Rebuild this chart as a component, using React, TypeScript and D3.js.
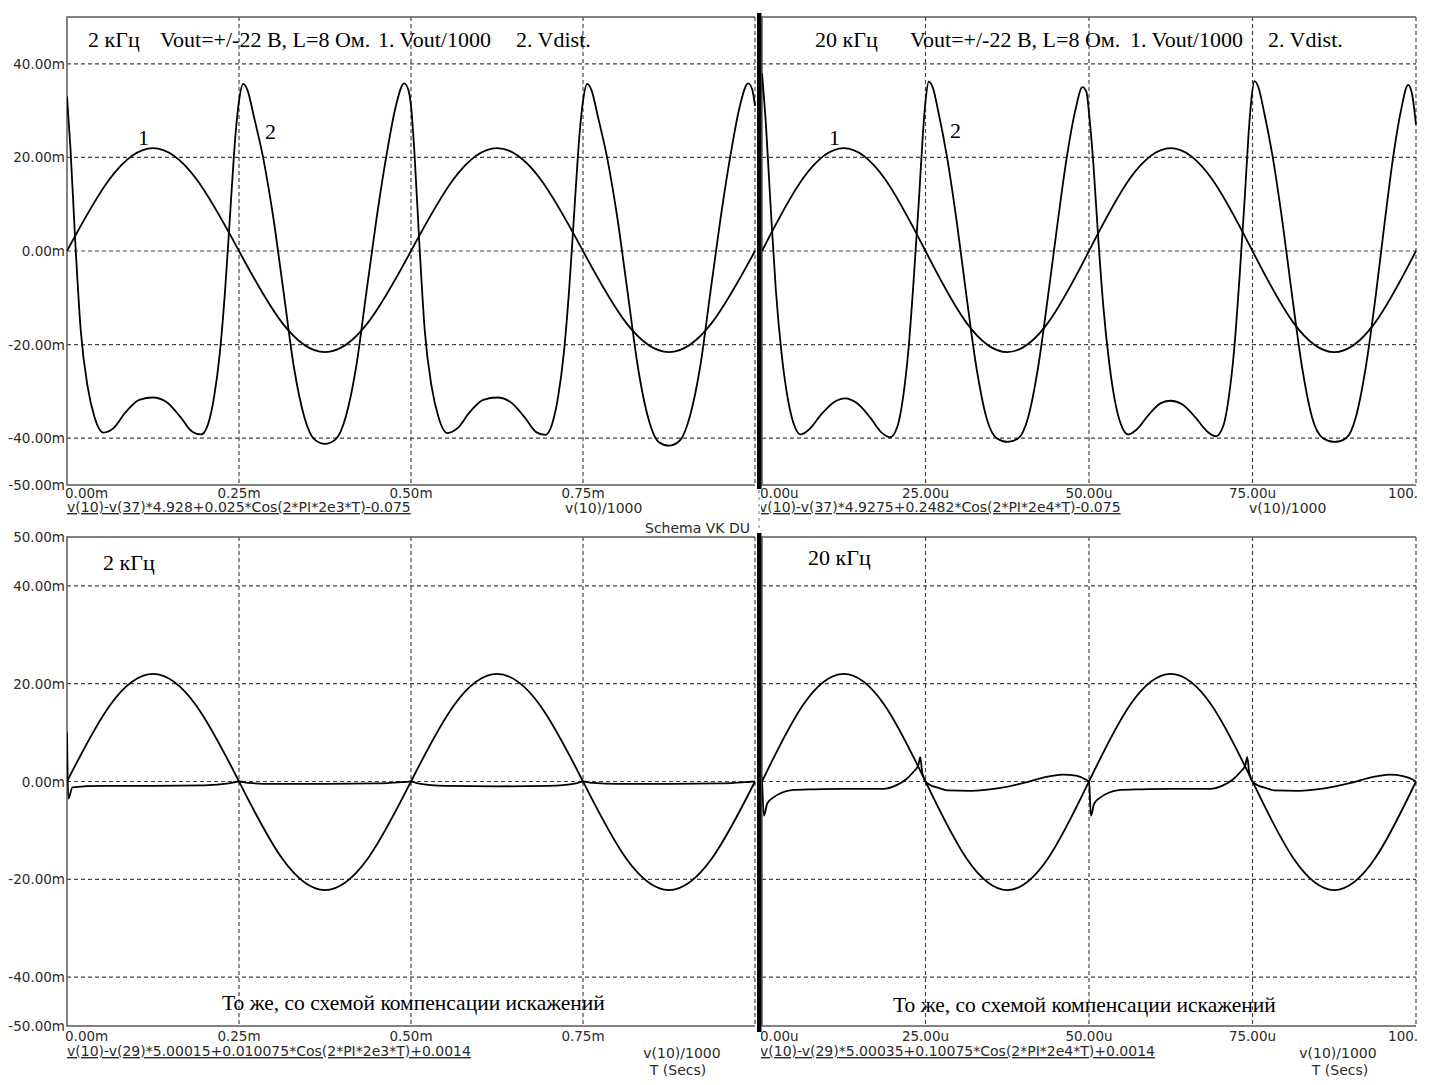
import React from 'react';
import * as d3 from 'd3';

// ── Data (t: ms on the left panels, µs on the right panels; values in mV) ──
const yTicks = [40, 20, 0, -20, -40, -50];
const yTickLabels = ['40.00m', '20.00m', '0.00m', '-20.00m', '-40.00m', '-50.00m'];
const yGrid = [40, 20, 0, -20, -40];

const msTicks = [0, 0.25, 0.5, 0.75];
const msTickLabels = ['0.00m', '0.25m', '0.50m', '0.75m'];
const msGrid = [0.25, 0.5, 0.75, 1.0];

const usTicks = [0, 25, 50, 75, 100];
const usTickLabels = ['0.00u', '25.00u', '50.00u', '75.00u', '100.00u'];
const usGrid = [25, 50, 75, 100];

// 1. Vout/1000, 2 kHz
const vout2k: [number, number][] = [
  [0, 0], [0.0625, 15.5], [0.125, 22], [0.1875, 15.5], [0.25, 0], [0.3125, -15.3],
  [0.375, -21.6], [0.4375, -15.3], [0.5, 0], [0.5625, 15.5], [0.625, 22], [0.6875, 15.5],
  [0.75, 0], [0.8125, -15.3], [0.875, -21.6], [0.9375, -15.3], [1.0, 0],
];

// 2. Vdist, 2 kHz
const vdist2k: [number, number][] = [
  [0, 33], [0.005, 22], [0.012, 2], [0.02, -17], [0.03, -29], [0.04, -35.5], [0.053, -38.8],
  [0.068, -37.8], [0.085, -34.5], [0.105, -31.8], [0.125, -31.3], [0.145, -32.3], [0.165, -35.5],
  [0.182, -38.6], [0.195, -39.2], [0.205, -37], [0.214, -31], [0.222, -22], [0.23, -8],
  [0.238, 10], [0.245, 25], [0.25, 32], [0.256, 35.7], [0.262, 34.5], [0.272, 28.5],
  [0.285, 20], [0.3, 7], [0.315, -9], [0.33, -25], [0.345, -35.5], [0.36, -40.3],
  [0.375, -41.2], [0.39, -40.3], [0.405, -35.5], [0.42, -25], [0.435, -9], [0.45, 7],
  [0.465, 21], [0.478, 31], [0.49, 35.8], [0.496, 34.5], [0.5, 31], [0.505, 21],
  [0.512, 2], [0.52, -17], [0.53, -29], [0.54, -35.5], [0.553, -38.9], [0.568, -37.8],
  [0.585, -34.5], [0.605, -31.8], [0.625, -31.3], [0.645, -32.3], [0.665, -35.5],
  [0.682, -38.7], [0.695, -39.3], [0.705, -37], [0.714, -31], [0.722, -22], [0.73, -8],
  [0.738, 10], [0.745, 25], [0.75, 32], [0.756, 35.7], [0.762, 34.5], [0.772, 28.5],
  [0.785, 20], [0.8, 7], [0.815, -9], [0.83, -25], [0.845, -35.8], [0.86, -40.8],
  [0.875, -41.6], [0.89, -40.6], [0.905, -35.5], [0.92, -25], [0.935, -9], [0.95, 7],
  [0.965, 21], [0.978, 31], [0.99, 35.8], [0.996, 34.5], [1.0, 31],
];

// 1. Vout/1000, 20 kHz
const vout20k: [number, number][] = [
  [0, 0], [6.25, 15.5], [12.5, 22], [18.75, 15.5], [25, 0], [31.25, -15.3],
  [37.5, -21.6], [43.75, -15.3], [50, 0], [56.25, 15.5], [62.5, 22], [68.75, 15.5],
  [75, 0], [81.25, -15.3], [87.5, -21.6], [93.75, -15.3], [100, 0],
];

// 2. Vdist, 20 kHz
const vdist20k: [number, number][] = [
  [0, 38], [0.6, 27], [1.3, 10], [2.1, -8], [3, -22], [4, -32], [5, -37.5], [5.9, -39.2],
  [7.3, -38], [9, -35], [11, -32.3], [12.7, -31.5], [14.5, -32.5], [16.5, -35.5],
  [18.3, -38.8], [19.6, -39.8], [20.7, -37.5], [21.6, -31], [22.4, -21], [23.2, -6],
  [24, 11], [24.6, 25], [25, 32], [25.5, 36.2], [26.1, 35], [27, 29.5], [28.3, 20],
  [29.8, 6], [31.3, -10], [32.8, -25], [34.3, -35.5], [35.9, -40], [37.6, -40.8],
  [39.2, -40], [40.7, -35.5], [42.2, -25], [43.7, -10], [45.2, 6], [46.6, 20], [47.9, 30],
  [49, 35], [49.6, 34], [50.1, 28], [50.7, 18], [51.4, 3], [52.2, -12], [53.1, -24],
  [54.1, -33], [55.1, -37.8], [56, -39.2], [57.4, -38], [59, -35.2], [61, -32.5],
  [62.5, -32], [64.3, -32.8], [66.3, -35.6], [68.1, -38.6], [69.4, -39.6], [70.5, -37.5],
  [71.4, -31], [72.2, -21], [73, -6], [73.8, 11], [74.4, 25], [74.8, 32], [75.3, 36.3],
  [75.9, 35], [76.8, 29.5], [78.1, 20], [79.6, 6], [81.1, -10], [82.6, -25], [84.1, -35.5],
  [85.8, -40], [87.6, -40.8], [89.3, -40], [90.8, -35.5], [92.3, -25], [93.8, -10],
  [95.2, 6], [96.5, 20], [97.7, 30], [98.8, 35.5], [99.4, 33.5], [100, 27],
];

// With distortion compensation, 2 kHz
const voutComp2k: [number, number][] = [
  [0, 0], [0.0625, 15.6], [0.125, 22], [0.1875, 15.6], [0.25, 0], [0.3125, -15.7],
  [0.375, -22.2], [0.4375, -15.7], [0.5, 0], [0.5625, 15.6], [0.625, 22], [0.6875, 15.6],
  [0.75, 0], [0.8125, -15.7], [0.875, -22.2], [0.9375, -15.7], [1.0, 0],
];
const vdistComp2k: [number, number][] = [
  [0, 10], [0.002, -3.5], [0.008, -1.2], [0.05, -0.9], [0.125, -0.9], [0.2, -0.8],
  [0.235, -0.4], [0.25, 0], [0.265, -0.3], [0.3, -0.5], [0.375, -0.5], [0.45, -0.4],
  [0.49, -0.1], [0.5, 0], [0.51, -0.4], [0.55, -0.9], [0.625, -1], [0.7, -0.9],
  [0.74, -0.4], [0.75, 0], [0.765, -0.3], [0.8, -0.5], [0.875, -0.5], [0.95, -0.4],
  [0.99, -0.1], [1.0, 0],
];

// With distortion compensation, 20 kHz
const voutComp20k: [number, number][] = [
  [0, 0], [6.25, 15.6], [12.5, 22], [18.75, 15.6], [25, 0], [31.25, -15.7],
  [37.5, -22.2], [43.75, -15.7], [50, 0], [56.25, 15.6], [62.5, 22], [68.75, 15.6],
  [75, 0], [81.25, -15.7], [87.5, -22.2], [93.75, -15.7], [100, 0],
];
const vdistComp20k: [number, number][] = [
  [0, 0.8], [0.3, -7], [0.8, -4.5], [1.7, -3.3], [3, -2.3], [4.3, -1.8], [8, -1.6],
  [12, -1.5], [18.5, -1.5], [20.5, -0.8], [22, 0.4], [23.1, 1.9], [23.9, 3.3], [24.2, 5],
  [24.5, 1.8], [25.2, -0.3], [27.2, -1.4], [28.3, -1.8], [32, -1.9], [36, -1.4],
  [40, -0.3], [43, 0.8], [46, 1.4], [48, 1.2], [49.5, 0.4], [50, 0], [50.3, -7],
  [50.8, -4.5], [51.7, -3.3], [53, -2.3], [54.3, -1.8], [58, -1.6], [62, -1.5],
  [68.5, -1.5], [70.5, -0.8], [72, 0.4], [73.1, 1.9], [73.9, 3.3], [74.2, 5], [74.5, 1.8],
  [75.2, -0.3], [77.2, -1.4], [78.3, -1.8], [82, -1.9], [86, -1.4], [90, -0.3],
  [93, 0.8], [96, 1.4], [98, 1.1], [99.5, 0.4], [100, 0],
];

// ── Styling ──
const serif = '"Liberation Serif", "Times New Roman", serif';
const sans = '"DejaVu Sans", Verdana, sans-serif';
const sansSize = 13.5;
const formulaSize = 14;
const gridColor = '#444';
const frameColor = '#5a5a5a';
const labelColor = '#2a2a2a';

type Pt = [number, number];

interface PanelProps {
  id: string;
  left: number;
  right: number;
  top: number;
  bottom: number;
  xMax: number;
  xGrid: number[];
  xTicks: number[];
  xTickLabels: string[];
  xLabelY: number;
  showYLabels: boolean;
  showTopLabel: boolean;
  vout: Pt[];
  vdist: Pt[];
}

const Panel: React.FC<PanelProps> = (p) => {
  const x = d3.scaleLinear().domain([0, p.xMax]).range([p.left, p.right]);
  const y = d3.scaleLinear().domain([-50, 50]).range([p.bottom, p.top]);

  const smooth = d3.line<Pt>().x(d => x(d[0])).y(d => y(d[1])).curve(d3.curveNatural);
  const sharp = d3.line<Pt>().x(d => x(d[0])).y(d => y(d[1])).curve(d3.curveMonotoneX);

  return (
    <g>
      <defs>
        <clipPath id={`plot-${p.id}`}>
          <rect x={p.left} y={p.top} width={p.right - p.left + 2} height={p.bottom - p.top} />
        </clipPath>
        <clipPath id={`text-${p.id}`}>
          <rect x={p.left - (p.showYLabels ? 80 : 1)} y={p.bottom} width={p.right - p.left + (p.showYLabels ? 80 : 3)} height={30} />
        </clipPath>
      </defs>

      {/* grid */}
      {yGrid.map(v => (
        <line key={`gy${v}`} x1={p.left} x2={p.right} y1={y(v)} y2={y(v)}
          stroke={gridColor} strokeWidth={1.2} strokeDasharray="4,3" />
      ))}
      {p.xGrid.map(v => (
        <line key={`gx${v}`} x1={x(v)} x2={x(v)} y1={p.top} y2={p.bottom}
          stroke={gridColor} strokeWidth={1.2} strokeDasharray="4,3" />
      ))}

      {/* frame: top, left, bottom solid */}
      <path d={`M${p.right},${p.top}H${p.left}V${p.bottom}H${p.right}`}
        fill="none" stroke={frameColor} strokeWidth={1.5} />

      {/* traces */}
      <g clipPath={`url(#plot-${p.id})`}>
        <path d={smooth(p.vout) ?? ''} fill="none" stroke="#000" strokeWidth={1.8} />
        <path d={sharp(p.vdist) ?? ''} fill="none" stroke="#000" strokeWidth={1.8} />
      </g>

      {/* y labels */}
      {p.showYLabels && yTicks.map((v, i) => (
        <text key={`yl${v}`} x={p.left - 2} y={y(v) + 5} textAnchor="end"
          fontFamily={sans} fontSize={sansSize} fill={labelColor}>{yTickLabels[i]}</text>
      ))}
      {p.showYLabels && p.showTopLabel && (
        <text x={p.left - 2} y={y(50) + 5} textAnchor="end"
          fontFamily={sans} fontSize={sansSize} fill={labelColor}>50.00m</text>
      )}

      {/* x labels */}
      <g clipPath={`url(#text-${p.id})`}>
        {p.xTicks.map((v, i) => (
          <text key={`xl${v}`} x={i === 0 ? x(v) - 2 : x(v)} y={p.xLabelY}
            textAnchor={i === 0 ? 'start' : 'middle'}
            fontFamily={sans} fontSize={sansSize} fill={labelColor}>{p.xTickLabels[i]}</text>
        ))}
      </g>
    </g>
  );
};

const Formula: React.FC<{ x: number; y: number; text: string; clip?: boolean }> = ({ x, y, text, clip }) => (
  <text x={x} y={y} fontFamily={sans} fontSize={formulaSize} fill={labelColor}
    textDecoration="underline" clipPath={clip ? 'url(#fclip)' : undefined}>{text}</text>
);

export default function App() {
  return (
    <svg width={1429} height={1085} style={{ position: 'absolute', left: 0, top: 0 }}>
      <rect width={1429} height={1085} fill="#fff" />
      <defs>
        <clipPath id="fclip">
          <rect x={761} y={0} width={668} height={1085} />
        </clipPath>
      </defs>

      <Panel id="tl" left={67} right={755} top={17} bottom={485} xMax={1} xGrid={msGrid}
        xTicks={msTicks} xTickLabels={msTickLabels} xLabelY={498}
        showYLabels showTopLabel={false} vout={vout2k} vdist={vdist2k} />
      <Panel id="tr" left={762} right={1416} top={17} bottom={485} xMax={100} xGrid={usGrid}
        xTicks={usTicks} xTickLabels={usTickLabels} xLabelY={498}
        showYLabels={false} showTopLabel={false} vout={vout20k} vdist={vdist20k} />
      <Panel id="bl" left={67} right={755} top={537} bottom={1026} xMax={1} xGrid={msGrid}
        xTicks={msTicks} xTickLabels={msTickLabels} xLabelY={1041}
        showYLabels showTopLabel vout={voutComp2k} vdist={vdistComp2k} />
      <Panel id="br" left={762} right={1416} top={537} bottom={1026} xMax={100} xGrid={usGrid}
        xTicks={usTicks} xTickLabels={usTickLabels} xLabelY={1041}
        showYLabels={false} showTopLabel={false} vout={voutComp20k} vdist={vdistComp20k} />

      {/* separator bar */}
      <rect x={757} y={13} width={4.5} height={476} fill="#000" />
      <rect x={757} y={533} width={4.5} height={499} fill="#000" />
      <line x1={759} x2={759} y1={490} y2={532} stroke="#777" strokeWidth={1} strokeDasharray="3,4" />

      {/* titles */}
      <g fontFamily={serif} fontSize={22} fill="#000">
        <text x={88} y={47}>2 кГц</text>
        <text x={160} y={47}>Vout=+/-22 В, L=8 Ом.</text>
        <text x={378} y={47}>1. Vout/1000</text>
        <text x={516} y={47}>2. Vdist.</text>
        <text x={138} y={145}>1</text>
        <text x={265} y={139}>2</text>

        <text x={815} y={47}>20 кГц</text>
        <text x={910} y={47}>Vout=+/-22 В, L=8 Ом.</text>
        <text x={1130} y={47}>1. Vout/1000</text>
        <text x={1268} y={47}>2. Vdist.</text>
        <text x={829} y={145}>1</text>
        <text x={950} y={138}>2</text>

        <text x={103} y={570}>2 кГц</text>
        <text x={808} y={565}>20 кГц</text>
      </g>
      <g fontFamily={serif} fontSize={21.5} fill="#000">
        <text x={222} y={1010}>То же, со схемой компенсации искажений</text>
        <text x={893} y={1012}>То же, со схемой компенсации искажений</text>
      </g>

      {/* formulas & trace names */}
      <Formula x={67} y={512} text="v(10)-v(37)*4.928+0.025*Cos(2*PI*2e3*T)-0.075" />
      <Formula x={759} y={512} clip text="v(10)-v(37)*4.9275+0.2482*Cos(2*PI*2e4*T)-0.075" />
      <Formula x={67} y={1056} text="v(10)-v(29)*5.00015+0.010075*Cos(2*PI*2e3*T)+0.0014" />
      <Formula x={760} y={1056} clip text="v(10)-v(29)*5.00035+0.10075*Cos(2*PI*2e4*T)+0.0014" />

      <g fontFamily={sans} fontSize={formulaSize} fill={labelColor}>
        <text x={565} y={513}>v(10)/1000</text>
        <text x={1249} y={513}>v(10)/1000</text>
        <text x={750} y={533} textAnchor="end">Schema VK DU</text>
        <text x={682} y={1058} textAnchor="middle">v(10)/1000</text>
        <text x={678} y={1075} textAnchor="middle">T (Secs)</text>
        <text x={1338} y={1058} textAnchor="middle">v(10)/1000</text>
        <text x={1340} y={1075} textAnchor="middle">T (Secs)</text>
      </g>
    </svg>
  );
}
